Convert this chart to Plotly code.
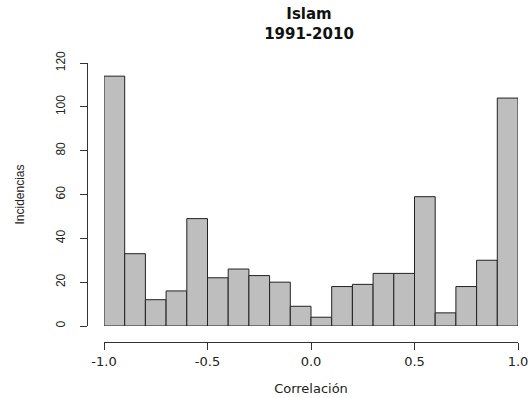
import plotly.graph_objects as go

bin_starts = [-1.0, -0.9, -0.8, -0.7, -0.6, -0.5, -0.4, -0.3, -0.2, -0.1,
              0.0, 0.1, 0.2, 0.3, 0.4, 0.5, 0.6, 0.7, 0.8, 0.9]
counts = [114, 33, 12, 16, 49, 22, 26, 23, 20, 9,
          4, 18, 19, 24, 24, 59, 6, 18, 30, 104]
bin_width = 0.1
x_tickvals = [-1.0, -0.5, 0.0, 0.5, 1.0]
x_ticktext = ["-1.0", "-0.5", "0.0", "0.5", "1.0"]
y_tickvals = [0, 20, 40, 60, 80, 100, 120]

font = "Liberation Sans, Arial, sans-serif"
wide_font = "DejaVu Sans, Verdana, sans-serif"

fig = go.Figure(go.Bar(
    x=[s + bin_width / 2 for s in bin_starts],
    y=counts,
    width=[bin_width] * len(counts),
    marker=dict(color="#BEBEBE", line=dict(color="#222222", width=1)),
))

W, H = 529, 398
l, r, t, b = 87, 11, 63, 56
pw = W - l - r
ph = H - t - b
x0_px = 104
y0_px = 326

fig.update_layout(
    template="none",
    width=W, height=H,
    margin=dict(l=l, r=r, t=t, b=b, autoexpand=False),
    paper_bgcolor="white", plot_bgcolor="white",
    showlegend=False,
    font=dict(family=font, size=12, color="#222222"),
    title=dict(text="<b>Islam<br>1991-2010</b>", x=(309 - l) / pw, xref="paper", xanchor="center",
               y=(H - 19) / H, yref="container", yanchor="top", automargin=False,
               font=dict(family=wide_font, size=15, color="#111111")),
    xaxis=dict(
        domain=[(x0_px - l) / pw, 1], range=[-1.0, 1.0],
        anchor="free", position=0, automargin=False,
        showgrid=False, zeroline=False, showline=True, linecolor="#333333", linewidth=1,
        ticks="outside", ticklen=7, tickcolor="#333333", ticklabelstandoff=0,
        tickvals=x_tickvals, ticktext=x_ticktext,
        tickfont=dict(family=wide_font, size=13, color="#222222"),
        title=dict(text="Correlación", standoff=16,
                   font=dict(family=wide_font, size=13, color="#222222")),
    ),
    yaxis=dict(
        domain=[(H - b - y0_px) / ph, 1], range=[0, 120],
        anchor="free", position=0, automargin=False,
        showgrid=False, zeroline=False, showline=True, linecolor="#333333", linewidth=1,
        ticks="outside", ticklen=7, tickcolor="#333333", ticklabelstandoff=10,
        tickvals=y_tickvals, tickangle=-90,
        title=dict(text="Incidencias", standoff=26, font=dict(size=12)),
    ),
)

fig.write_html("out.html", config={"displayModeBar": False},
               post_script="document.body.style.margin='0';document.body.style.overflow='hidden';")
